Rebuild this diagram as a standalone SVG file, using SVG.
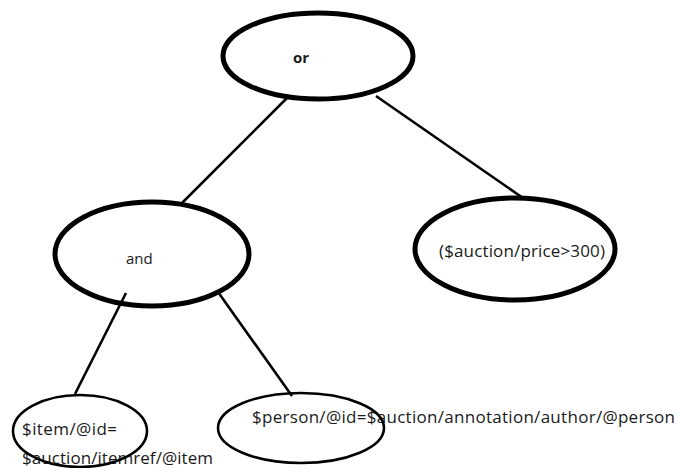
<svg xmlns="http://www.w3.org/2000/svg" width="677" height="468" viewBox="0 0 677 468">
<style>
.bg{fill:#fff}
.thick{fill:none;stroke:#000;stroke-width:5}
.thin{fill:none;stroke:#000;stroke-width:2.6}
.edge{stroke:#000;stroke-width:2.6;fill:none}
text{font-family:"Open Sans","Liberation Sans",sans-serif;fill:#1a1a1a}
</style>
<rect class="bg" x="0" y="0" width="677" height="468"/>
<g id="connectors">
<line class="edge" x1="287" y1="98" x2="180" y2="205"/>
<line class="edge" x1="376" y1="96" x2="523" y2="198"/>
<line class="edge" x1="126" y1="293" x2="75" y2="394"/>
<line class="edge" x1="218" y1="292" x2="292" y2="396"/>
</g>
<g id="node-or">
<ellipse class="thick" cx="318" cy="56" rx="95" ry="43"/>
<text x="293" y="63" font-size="15" font-weight="bold">or</text>
</g>
<g id="node-and">
<ellipse class="thick" cx="152" cy="254" rx="97" ry="52"/>
<text x="126" y="264" font-size="15">and</text>
</g>
<g id="node-price">
<ellipse class="thick" cx="515" cy="249" rx="100" ry="51"/>
<text x="439" y="257" font-size="17" textLength="166">($auction/price&gt;300)</text>
</g>
<g id="node-item">
<text x="22" y="435" font-size="17" textLength="95">$item/@id=</text>
<text x="22" y="464" font-size="17" textLength="191">$auction/itemref/@item</text>
<ellipse class="thin" cx="80" cy="431" rx="67" ry="36"/>
</g>
<g id="node-person">
<text x="252" y="423" font-size="17" textLength="423">$person/@id=$auction/annotation/author/@person</text>
<ellipse class="thin" cx="301" cy="428" rx="83" ry="35"/>
</g>
</svg>
